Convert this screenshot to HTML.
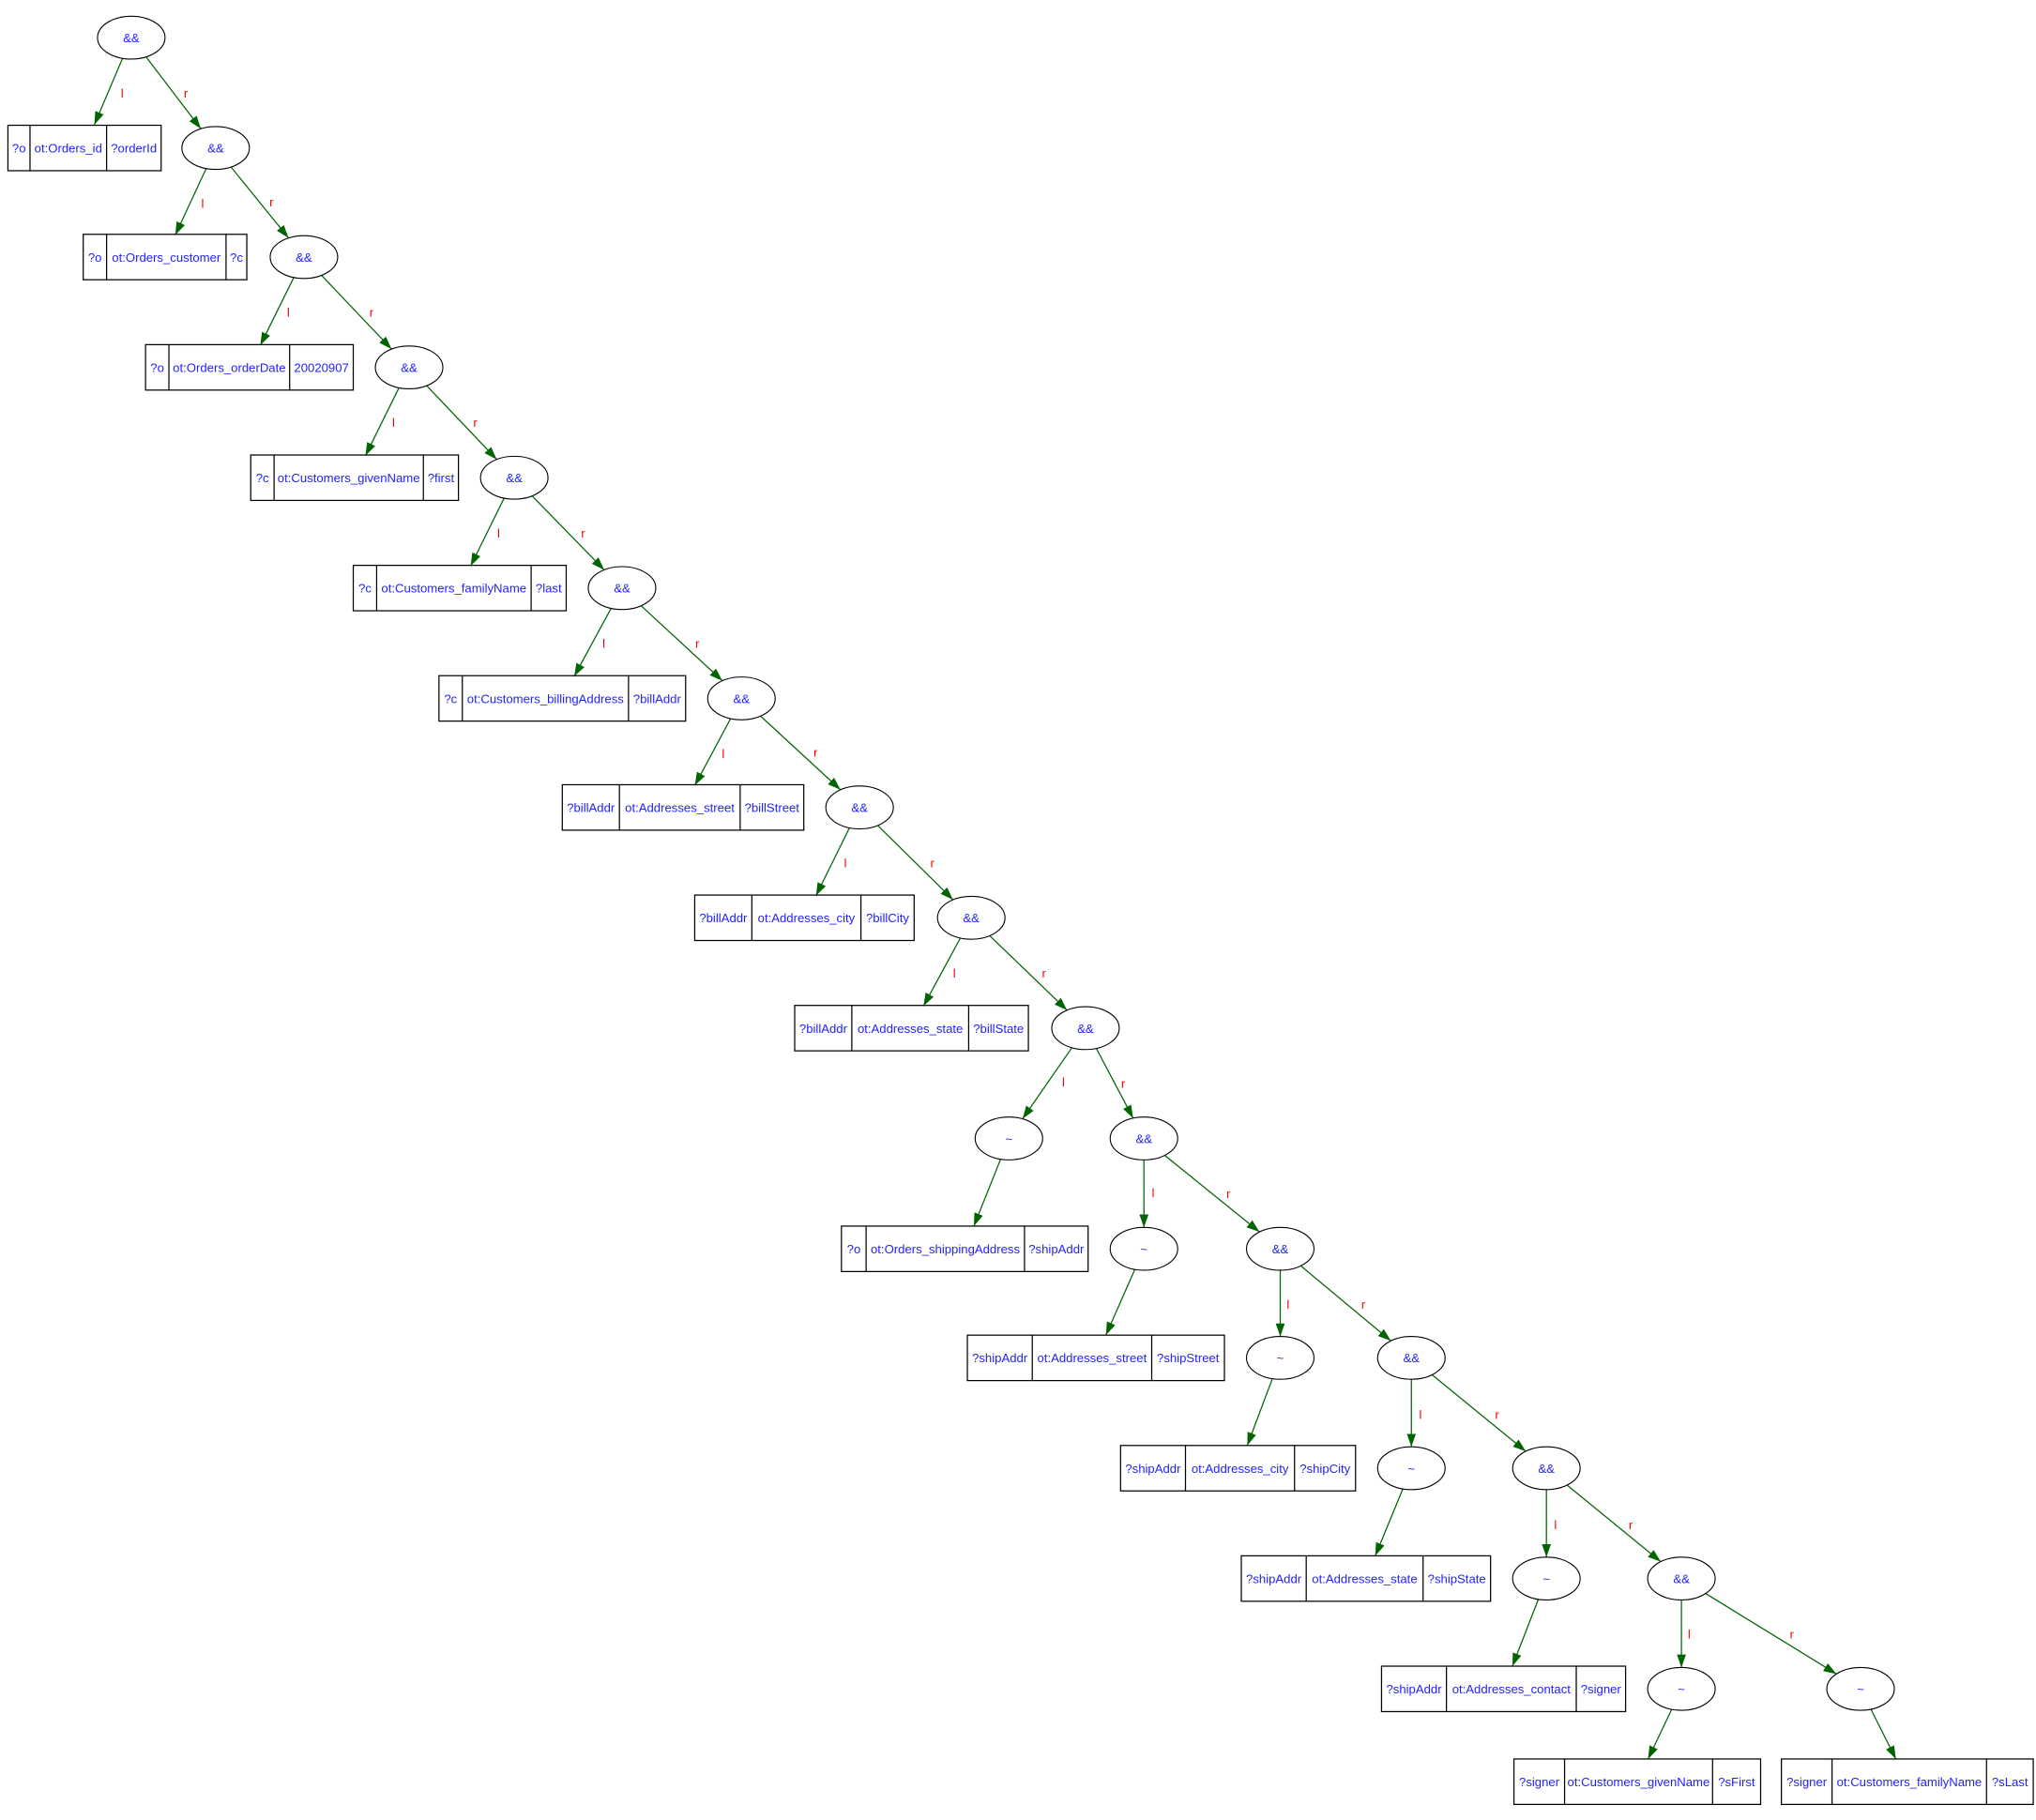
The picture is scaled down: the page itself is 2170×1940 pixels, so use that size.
<!DOCTYPE html>
<html><head><meta charset="utf-8"><style>html,body{margin:0;padding:0;background:#fff}svg{display:block}</style></head>
<body>
<svg width="2170" height="1940" viewBox="0 0 1568 1402" xmlns="http://www.w3.org/2000/svg" font-family="Liberation Sans, Arial, sans-serif">
<defs>
<marker id="a" markerUnits="userSpaceOnUse" markerWidth="11" markerHeight="8" refX="10" refY="3.5" orient="auto"><path d="M0,0 L10,3.5 L0,7 z" fill="#006400"/></marker>
</defs>
<rect width="1568" height="1402" fill="#fff"/>
<g stroke="#006400" stroke-width="0.9" fill="none" marker-end="url(#a)">
<line x1="94.3" y1="44.9" x2="72.6" y2="96"/>
<line x1="158.7" y1="129.8" x2="134.9" y2="181"/>
<line x1="226.2" y1="213.7" x2="200.4" y2="266"/>
<line x1="307.2" y1="298.7" x2="281.4" y2="351"/>
<line x1="388.2" y1="383.7" x2="362.4" y2="436"/>
<line x1="470.6" y1="468.6" x2="442.2" y2="521"/>
<line x1="562.6" y1="553.6" x2="535.1" y2="605"/>
<line x1="654.2" y1="637.7" x2="628.4" y2="690"/>
<line x1="739.6" y1="722.6" x2="711.2" y2="775"/>
<line x1="825.5" y1="807.1" x2="787.5" y2="861.9"/>
<line x1="881" y1="893.5" x2="881" y2="945.5"/>
<line x1="986" y1="978.5" x2="986" y2="1029.5"/>
<line x1="1087" y1="1062.5" x2="1087" y2="1114.5"/>
<line x1="1191" y1="1147.5" x2="1191" y2="1199.5"/>
<line x1="1295" y1="1232.5" x2="1295" y2="1284.5"/>
<line x1="112.4" y1="43.8" x2="154.6" y2="99.2"/>
<line x1="177.9" y1="128.7" x2="222.1" y2="183.3"/>
<line x1="247.5" y1="212.1" x2="301.5" y2="268.9"/>
<line x1="328.5" y1="297.1" x2="382.5" y2="353.9"/>
<line x1="409.7" y1="382" x2="465.3" y2="439"/>
<line x1="493.7" y1="466.6" x2="556.3" y2="524.4"/>
<line x1="585.7" y1="551.6" x2="647.3" y2="608.4"/>
<line x1="676" y1="635.9" x2="734" y2="693.1"/>
<line x1="762.2" y1="720.8" x2="821.8" y2="778.2"/>
<line x1="844.3" y1="807.6" x2="872.7" y2="861.4"/>
<line x1="897" y1="890" x2="970" y2="949"/>
<line x1="1001.8" y1="975.1" x2="1071.2" y2="1032.9"/>
<line x1="1102.9" y1="1059" x2="1175.1" y2="1118"/>
<line x1="1206.9" y1="1144" x2="1279.1" y2="1203"/>
<line x1="1313.6" y1="1227.5" x2="1414.4" y2="1289.5"/>
<line x1="770.6" y1="893" x2="750" y2="944.5"/>
<line x1="874" y1="977.9" x2="851.7" y2="1028.5"/>
<line x1="979.9" y1="1062.1" x2="960.6" y2="1113.5"/>
<line x1="1080.4" y1="1147" x2="1059.2" y2="1198.5"/>
<line x1="1184.8" y1="1232" x2="1164.8" y2="1283.5"/>
<line x1="1287.5" y1="1316.8" x2="1269.3" y2="1355"/>
<line x1="1441" y1="1316.8" x2="1460.2" y2="1355"/>
</g>
<g fill="#ff0000" font-size="9.5" text-anchor="middle">
<text x="94" y="75">l</text><text x="143" y="75">r</text>
<text x="156" y="160">l</text><text x="209" y="159">r</text>
<text x="222" y="244">l</text><text x="286" y="244">r</text>
<text x="303" y="329">l</text><text x="366" y="329">r</text>
<text x="384" y="414">l</text><text x="449" y="414">r</text>
<text x="465" y="499">l</text><text x="537" y="499">r</text>
<text x="557" y="584">l</text><text x="628" y="583">r</text>
<text x="651" y="668">l</text><text x="718" y="668">r</text>
<text x="735" y="753">l</text><text x="804" y="753">r</text>
<text x="819" y="837">l</text><text x="865" y="838">r</text>
<text x="888" y="922">l</text><text x="946" y="923">r</text>
<text x="992" y="1008">l</text><text x="1050" y="1008">r</text>
<text x="1094" y="1093">l</text><text x="1153" y="1093">r</text>
<text x="1198" y="1178">l</text><text x="1256" y="1178">r</text>
<text x="1301" y="1262">l</text><text x="1380" y="1262">r</text>
</g>
<g fill="#fff" stroke="#000" stroke-width="0.8">
<ellipse cx="101" cy="29" rx="26" ry="16.5"/><ellipse cx="166" cy="114" rx="26" ry="16.5"/>
<ellipse cx="234" cy="198" rx="26" ry="16.5"/><ellipse cx="315" cy="283" rx="26" ry="16.5"/>
<ellipse cx="396" cy="368" rx="26" ry="16.5"/><ellipse cx="479" cy="453" rx="26" ry="16.5"/>
<ellipse cx="571" cy="538" rx="26" ry="16.5"/><ellipse cx="662" cy="622" rx="26" ry="16.5"/>
<ellipse cx="748" cy="707" rx="26" ry="16.5"/><ellipse cx="836" cy="792" rx="26" ry="16.5"/>
<ellipse cx="881" cy="877" rx="26" ry="16.5"/><ellipse cx="986" cy="962" rx="26" ry="16.5"/>
<ellipse cx="1087" cy="1046" rx="26" ry="16.5"/><ellipse cx="1191" cy="1131" rx="26" ry="16.5"/>
<ellipse cx="1295" cy="1216" rx="26" ry="16.5"/>
<ellipse cx="777" cy="877" rx="26" ry="16.5"/><ellipse cx="881" cy="962" rx="26" ry="16.5"/>
<ellipse cx="986" cy="1046" rx="26" ry="16.5"/><ellipse cx="1087" cy="1131" rx="26" ry="16.5"/>
<ellipse cx="1191" cy="1216" rx="26" ry="16.5"/><ellipse cx="1295" cy="1301" rx="26" ry="16.5"/>
<ellipse cx="1433" cy="1301" rx="26" ry="16.5"/>
</g>
<g fill="#2222ff" font-size="9.5" text-anchor="middle">
<text x="101" y="32.5">&amp;&amp;</text><text x="166" y="117.5">&amp;&amp;</text>
<text x="234" y="201.5">&amp;&amp;</text><text x="315" y="286.5">&amp;&amp;</text>
<text x="396" y="371.5">&amp;&amp;</text><text x="479" y="456.5">&amp;&amp;</text>
<text x="571" y="541.5">&amp;&amp;</text><text x="662" y="625.5">&amp;&amp;</text>
<text x="748" y="710.5">&amp;&amp;</text><text x="836" y="795.5">&amp;&amp;</text>
<text x="881" y="880.5">&amp;&amp;</text><text x="986" y="965.5">&amp;&amp;</text>
<text x="1087" y="1049.5">&amp;&amp;</text><text x="1191" y="1134.5">&amp;&amp;</text>
<text x="1295" y="1219.5">&amp;&amp;</text>
<text x="777" y="880.5">~</text><text x="881" y="965.5">~</text>
<text x="986" y="1049.5">~</text><text x="1087" y="1134.5">~</text>
<text x="1191" y="1219.5">~</text><text x="1295" y="1304.5">~</text>
<text x="1433" y="1304.5">~</text>
</g>
<g fill="none" stroke="#000" stroke-width="0.9">
<rect x="6" y="96.5" width="118" height="35"/><path d="M23 96.5v35M82 96.5v35"/>
<rect x="64" y="180.5" width="126" height="35"/><path d="M82 180.5v35M174 180.5v35"/>
<rect x="112" y="265.5" width="160" height="35"/><path d="M130 265.5v35M223 265.5v35"/>
<rect x="193" y="350.5" width="160" height="35"/><path d="M211 350.5v35M326 350.5v35"/>
<rect x="272" y="435.5" width="164" height="35"/><path d="M290 435.5v35M409 435.5v35"/>
<rect x="338" y="520.5" width="190" height="35"/><path d="M356 520.5v35M484 520.5v35"/>
<rect x="433" y="604.5" width="186" height="35"/><path d="M477 604.5v35M570 604.5v35"/>
<rect x="535" y="689.5" width="169" height="35"/><path d="M579 689.5v35M663 689.5v35"/>
<rect x="612" y="774.5" width="180" height="35"/><path d="M656 774.5v35M746 774.5v35"/>
<rect x="648" y="944.5" width="190" height="35"/><path d="M667 944.5v35M789 944.5v35"/>
<rect x="745" y="1028.5" width="198" height="35"/><path d="M795 1028.5v35M887 1028.5v35"/>
<rect x="863" y="1113.5" width="181" height="35"/><path d="M913 1113.5v35M997 1113.5v35"/>
<rect x="956" y="1198.5" width="192" height="35"/><path d="M1006 1198.5v35M1096 1198.5v35"/>
<rect x="1064" y="1283.5" width="188" height="35"/><path d="M1114 1283.5v35M1214 1283.5v35"/>
<rect x="1166" y="1355" width="190" height="35"/><path d="M1205 1355v35M1319 1355v35"/>
<rect x="1372" y="1355" width="194" height="35"/><path d="M1411 1355v35M1530 1355v35"/>
</g>
<g fill="#2222ff" font-size="9.5" text-anchor="middle">
<text x="14.5" y="117.5">?o</text><text x="52.5" y="117.5">ot:Orders_id</text><text x="103" y="117.5">?orderId</text>
<text x="73" y="201.5">?o</text><text x="128" y="201.5">ot:Orders_customer</text><text x="182" y="201.5">?c</text>
<text x="121" y="286.5">?o</text><text x="176.5" y="286.5">ot:Orders_orderDate</text><text x="247.5" y="286.5">20020907</text>
<text x="202" y="371.5">?c</text><text x="268.5" y="371.5">ot:Customers_givenName</text><text x="339.5" y="371.5">?first</text>
<text x="281" y="456.5">?c</text><text x="349.5" y="456.5">ot:Customers_familyName</text><text x="422.5" y="456.5">?last</text>
<text x="347" y="541.5">?c</text><text x="420" y="541.5">ot:Customers_billingAddress</text><text x="506" y="541.5">?billAddr</text>
<text x="455" y="625.5">?billAddr</text><text x="523.5" y="625.5">ot:Addresses_street</text><text x="594.5" y="625.5">?billStreet</text>
<text x="557" y="710.5">?billAddr</text><text x="621" y="710.5">ot:Addresses_city</text><text x="683.5" y="710.5">?billCity</text>
<text x="634" y="795.5">?billAddr</text><text x="701" y="795.5">ot:Addresses_state</text><text x="769" y="795.5">?billState</text>
<text x="657.5" y="965.5">?o</text><text x="728" y="965.5">ot:Orders_shippingAddress</text><text x="813.5" y="965.5">?shipAddr</text>
<text x="770" y="1049.5">?shipAddr</text><text x="841" y="1049.5">ot:Addresses_street</text><text x="915" y="1049.5">?shipStreet</text>
<text x="888" y="1134.5">?shipAddr</text><text x="955" y="1134.5">ot:Addresses_city</text><text x="1020.5" y="1134.5">?shipCity</text>
<text x="981" y="1219.5">?shipAddr</text><text x="1051" y="1219.5">ot:Addresses_state</text><text x="1122" y="1219.5">?shipState</text>
<text x="1089" y="1304.5">?shipAddr</text><text x="1164" y="1304.5">ot:Addresses_contact</text><text x="1233" y="1304.5">?signer</text>
<text x="1185.5" y="1376">?signer</text><text x="1262" y="1376">ot:Customers_givenName</text><text x="1337.5" y="1376">?sFirst</text>
<text x="1391.5" y="1376">?signer</text><text x="1470.5" y="1376">ot:Customers_familyName</text><text x="1548" y="1376">?sLast</text>
</g>
</svg>
</body></html>
